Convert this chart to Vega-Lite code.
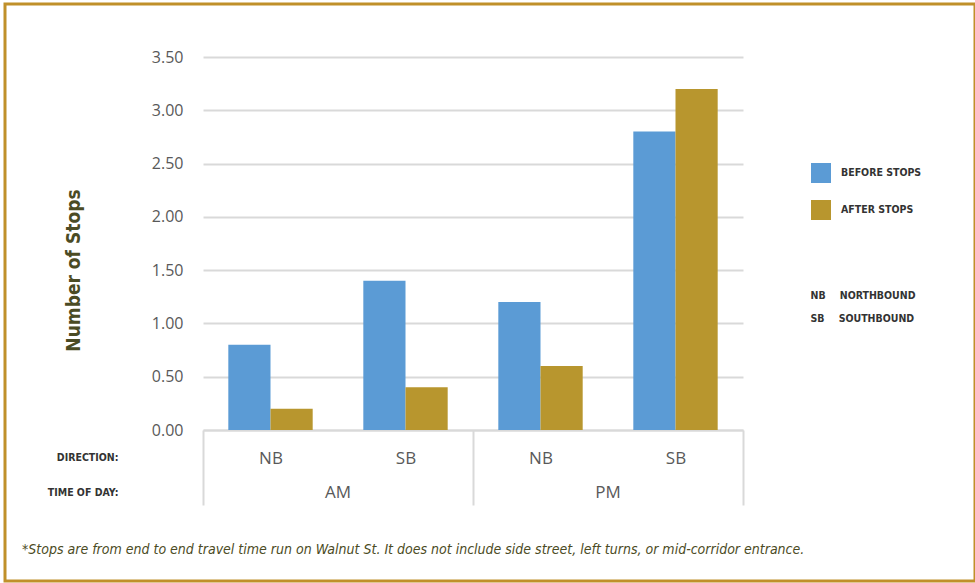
{
  "$schema": "https://vega.github.io/schema/vega-lite/v6.json",
  "width": 970,
  "height": 577,
  "autosize": {"type": "none"},
  "padding": {"left": 5, "top": 4, "right": 0, "bottom": 2},
  "background": "white",
  "title": {
    "text": "*Stops are from end to end travel time run on Walnut St. It does not include side street, left turns, or mid-corridor entrance.",
    "orient": "bottom",
    "anchor": "start",
    "offset": -38,
    "dx": 17,
    "font": "Liberation Sans Narrow, DejaVu Sans Condensed, sans-serif",
    "fontStyle": "italic",
    "fontWeight": "normal",
    "fontSize": 14,
    "color": "#4B4B24"
  },
  "data": {
    "values": [
      {"time": "AM", "direction": "NB", "series": "Before Stops", "value": 0.8},
      {"time": "AM", "direction": "NB", "series": "After Stops", "value": 0.2},
      {"time": "AM", "direction": "SB", "series": "Before Stops", "value": 1.4},
      {"time": "AM", "direction": "SB", "series": "After Stops", "value": 0.4},
      {"time": "PM", "direction": "NB", "series": "Before Stops", "value": 1.2},
      {"time": "PM", "direction": "NB", "series": "After Stops", "value": 0.6},
      {"time": "PM", "direction": "SB", "series": "Before Stops", "value": 2.8},
      {"time": "PM", "direction": "SB", "series": "After Stops", "value": 3.2}
    ]
  },
  "transform": [{"calculate": "datum.time + ' ' + datum.direction", "as": "slot"}],
  "layer": [
    {
      "mark": {"type": "bar"},
      "encoding": {
        "x": {
          "field": "slot",
          "type": "nominal",
          "scale": {"domain": ["AM NB", "AM SB", "PM NB", "PM SB"], "range": [198, 738], "paddingInner": 0, "paddingOuter": 0},
          "axis": {
            "title": null,
            "orient": "bottom",
            "offset": -151,
            "domain": true,
            "domainColor": "#d9d9d9",
            "domainWidth": 2,
            "ticks": true,
            "tickBand": "extent",
            "tickSize": 75,
            "tickWidth": 2,
            "tickColor": {"condition": {"test": "datum.value == 'AM NB' || datum.value == 'PM NB'", "value": "transparent"}, "value": "#d9d9d9"},
            "labelExpr": "split(datum.label, ' ')[1]",
            "labelPadding": -55,
            "labelAngle": 0,
            "labelFont": "Open Sans",
            "labelFontSize": 17,
            "labelColor": "#595959",
            "labelBaseline": "top",
            "grid": false
          }
        },
        "xOffset": {
          "field": "series",
          "type": "nominal",
          "scale": {"domain": ["Before Stops", "After Stops"], "paddingInner": 0, "paddingOuter": 0.6}
        },
        "y": {
          "field": "value",
          "type": "quantitative",
          "scale": {"domain": [0, 3.5], "range": [426, 53], "nice": false, "zero": true},
          "axis": {
            "title": "Number of Stops",
            "orient": "left",
            "offset": -198,
            "values": [0, 0.5, 1, 1.5, 2, 2.5, 3, 3.5],
            "format": ".2f",
            "domain": false,
            "ticks": false,
            "tickSize": 0,
            "labelPadding": 20,
            "labelFont": "Open Sans",
            "labelFontSize": 16,
            "labelColor": "#595959",
            "grid": true,
            "gridColor": "#d9d9d9",
            "gridWidth": 2,
            "titleX": -130,
            "titleY": 266,
            "titleAngle": -90,
            "titleAlign": "center",
            "titleBaseline": "middle",
            "titleFont": "Liberation Sans Narrow, DejaVu Sans Condensed, sans-serif",
            "titleFontWeight": "bold",
            "titleFontSize": 19,
            "titleColor": "#4B4B24"
          }
        },
        "color": {
          "field": "series",
          "type": "nominal",
          "scale": {"domain": ["Before Stops", "After Stops"], "range": ["#5B9BD5", "#B8962E"]},
          "legend": {
            "title": null,
            "orient": "none",
            "legendX": 806,
            "legendY": 159,
            "padding": 0,
            "symbolType": "square",
            "symbolSize": 400,
            "symbolStrokeWidth": 0,
            "symbolOpacity": 1,
            "rowPadding": 17,
            "labelOffset": 10,
            "labelExpr": "upper(datum.label)",
            "labelFont": "Liberation Sans Narrow, DejaVu Sans Condensed, sans-serif",
            "labelFontWeight": "bold",
            "labelFontSize": 10.5,
            "labelColor": "#333333"
          }
        }
      }
    },
    {
      "transform": [{"filter": "datum.direction == 'SB' && datum.series == 'Before Stops'"}],
      "mark": {"type": "text", "font": "Open Sans", "fontSize": 17, "color": "#595959", "baseline": "middle", "align": "center"},
      "encoding": {
        "x": {"field": "slot", "type": "nominal", "bandPosition": 0, "axis": {"title": null}},
        "y": {
          "datum": "TIME OF DAY:",
          "type": "nominal",
          "scale": {"domain": ["DIRECTION:", "TIME OF DAY:"], "range": [436, 506], "paddingInner": 0, "paddingOuter": 0},
          "axis": {
            "title": null,
            "orient": "left",
            "offset": -198,
            "domain": false,
            "ticks": false,
            "tickSize": 0,
            "grid": false,
            "labelPadding": 85,
            "labelFont": "Liberation Sans Narrow, DejaVu Sans Condensed, sans-serif",
            "labelFontWeight": "bold",
            "labelFontSize": 10.5,
            "labelColor": "#333333"
          }
        },
        "text": {"field": "time", "type": "nominal"},
        "opacity": {
          "field": "direction",
          "type": "ordinal",
          "scale": {"domain": ["NB", "SB"], "range": [1, 1]},
          "legend": {
            "title": null,
            "orient": "none",
            "legendX": 791,
            "legendY": 287,
            "padding": 0,
            "symbolSize": 0,
            "symbolStrokeWidth": 0,
            "symbolOpacity": 0,
            "rowPadding": 12,
            "labelOffset": 4,
            "labelExpr": "datum.label + '\u2002\u2002\u2002' + (datum.label == 'NB' ? 'NORTHBOUND' : 'SOUTHBOUND')",
            "labelFont": "Liberation Sans Narrow, DejaVu Sans Condensed, sans-serif",
            "labelFontWeight": "bold",
            "labelFontSize": 10.5,
            "labelColor": "#333333"
          }
        }
      }
    }
  ],
  "resolve": {"scale": {"y": "independent"}, "axis": {"y": "independent"}},
  "config": {
    "view": {"stroke": "#C0902A", "strokeWidth": 3},
    "font": "Open Sans"
  }
}
